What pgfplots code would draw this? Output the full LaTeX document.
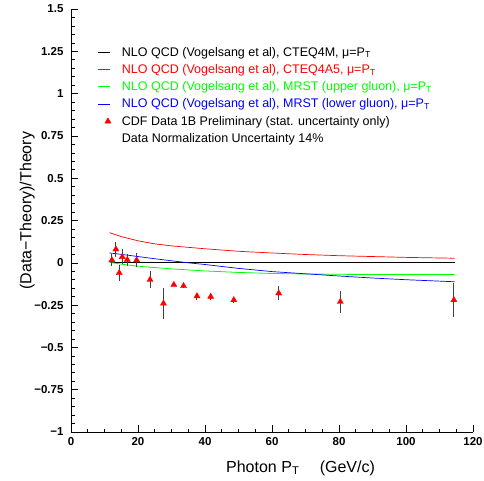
\documentclass[border=0pt]{standalone}
\usepackage{pgfplots}
\pgfplotsset{compat=1.18}
\usepackage{fontspec}
\setmainfont{Liberation Sans}
\pgfplotsset{
  lineleg/.style={legend image code/.code={\draw[##1] (0pt,0pt)--(12pt,0pt);}},
  markleg/.style={legend image code/.code={\draw[##1] plot coordinates {(10pt,0pt)};}},
}
\begin{document}
\begin{tikzpicture}[x=1pt,y=1pt]
\path[use as bounding box] (0,0) rectangle (484,480);
\begin{axis}[
 at={(71pt,48pt)}, anchor=south west,
 scale only axis, width=402pt, height=423pt,
 xmin=0, xmax=120, ymin=-1, ymax=1.5,
 axis lines=left, axis line style={-, line width=0.8pt},
 tick align=inside,
 xtick={0,20,40,60,80,100,120}, minor x tick num=3,
 ytick={-1,-0.75,-0.5,-0.25,0,0.25,0.5,0.75,1,1.25,1.5},
 yticklabels={−1,−0.75,−0.5,−0.25,0,0.25,0.5,0.75,1,1.25,1.5},
 xticklabels={0,20,40,60,80,100,120},
 minor y tick num=4,
 major tick length=7pt, minor tick length=3.5pt,
 tick style={black, line width=0.6pt},
 ticklabel style={font=\bfseries\fontsize{11.5}{13}\selectfont},
 xticklabel style={yshift=-2pt},
 yticklabel style={xshift=-4pt},
 xlabel={Photon P\textsubscript{T}\quad\ (GeV/c)},
 xlabel style={at={(axis description cs:0.571,-0.085)}, anchor=center, font=\fontsize{16}{18}\selectfont},
 ylabel={(Data−Theory)/Theory},
 ylabel style={at={(axis description cs:-0.109,0.523)}, anchor=center, font=\fontsize{16}{18}\selectfont},
 legend style={at={(axis description cs:0.058,0.92)}, anchor=north west, draw=none, fill=none,
   font=\fontsize{12.5}{15}\selectfont, row sep=2.7pt,
   /tikz/every odd column/.append style={column sep=9pt}},
 legend cell align=left,
]
\addplot[black, line width=0.7pt, lineleg] coordinates {(11.5,0) (114.5,0)};
\addlegendentry{NLO QCD (Vogelsang et al), CTEQ4M, μ=P\textsubscript{T}}
\addplot[red, line width=0.7pt, lineleg] coordinates {
(11.5,0.178) (15,0.155) (20,0.13) (25,0.112) (30,0.10) (40,0.083) (50,0.068) (60,0.058) (70,0.049) (80,0.042) (90,0.037) (100,0.032) (114.5,0.027)};
\addlegendentry{\textcolor{red}{NLO QCD (Vogelsang et al), CTEQ4A5, μ=P\textsubscript{T}}}
\addplot[green, line width=0.8pt, lineleg] coordinates {
(11.5,0.003) (15,-0.008) (20,-0.02) (25,-0.028) (30,-0.036) (40,-0.048) (50,-0.057) (60,-0.063) (70,-0.066) (80,-0.068) (100,-0.07) (114.5,-0.07)};
\addlegendentry{\textcolor{green}{NLO QCD (Vogelsang et al), MRST (upper gluon), μ=P\textsubscript{T}}}
\addplot[blue, line width=0.7pt, lineleg] coordinates {
(11.5,0.058) (15,0.05) (20,0.037) (25,0.024) (30,0.012) (35,0.0) (40,-0.01) (50,-0.033) (60,-0.052) (70,-0.065) (80,-0.078) (90,-0.09) (100,-0.1) (114.5,-0.112)};
\addlegendentry{\textcolor{blue}{NLO QCD (Vogelsang et al), MRST (lower gluon), μ=P\textsubscript{T}}}
\addplot[only marks, mark=triangle*, mark size=3.5pt, color=red, markleg,
  error bars/.cd, y dir=both, y explicit, error mark=none, error bar style={black!75, line width=1pt}]
  coordinates {
  (12.2,0.016) +- (0,0.035)
  (13.4,0.08) +- (0,0.045)
  (14.4,-0.06) +- (0,0.045)
  (15.3,0.035) +- (0,0.045)
  (16.8,0.018) +- (0,0.035)
  (19.6,0.016) +- (0,0.04)
  (23.6,-0.10) +- (0,0.05)
  (27.6,-0.24) +- (0,0.09)
  (30.7,-0.13) +- (0,0.01)
  (33.6,-0.137) +- (0,0.01)
  (37.6,-0.197) +- (0,0.02)
  (41.7,-0.20) +- (0,0.02)
  (48.6,-0.22) +- (0,0.015)
  (62,-0.18) +- (0,0.04)
  (80.4,-0.23) +- (0,0.065)
  (114.3,-0.22) +- (0,0.1)
};
\addlegendentry{CDF Data 1B Preliminary (stat. uncertainty only)}
\addlegendimage{empty legend}
\addlegendentry{Data Normalization Uncertainty 14\%}
\end{axis}
\end{tikzpicture}
\end{document}
